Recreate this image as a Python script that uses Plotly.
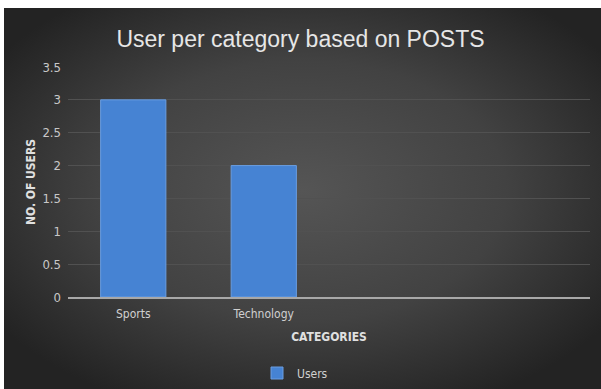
import base64
import plotly.graph_objects as go

categories = ["Sports", "Technology"]
users = [3, 2]
slot_count = 4  # category slots on the axis (two are empty)
y_ticks = [0, 0.5, 1, 1.5, 2, 2.5, 3, 3.5]
y_tick_labels = ["0", "0.5", "1", "1.5", "2", "2.5", "3", "3.5"]

W, H = 601, 389
L, R, T, B = 68, 11, 67, 92
pw, ph = W - L - R, H - T - B

svg = f'''<svg xmlns="http://www.w3.org/2000/svg" width="597" height="381" viewBox="0 0 597 381" preserveAspectRatio="none">
<defs><radialGradient id="g" cx="50%" cy="48%" r="62%" fx="50%" fy="48%">
<stop offset="0%" stop-color="#555555"/>
<stop offset="55%" stop-color="#424242"/>
<stop offset="100%" stop-color="#232323"/>
</radialGradient></defs>
<rect width="597" height="381" fill="url(#g)"/></svg>'''
src = "data:image/svg+xml;base64," + base64.b64encode(svg.encode()).decode()

font_narrow = "DejaVu Sans Condensed, Liberation Sans Narrow, Arial Narrow, Liberation Sans, sans-serif"

fig = go.Figure()
fig.add_trace(go.Bar(
    x=list(range(len(categories))), y=users, name="Users",
    marker=dict(color="#4683d3", line=dict(color="#6a9de0", width=1)),
    width=0.5,
))

fig.add_layout_image(dict(
    source=src, xref="paper", yref="paper",
    x=(4 - L) / pw, y=(T + ph - 8) / ph,
    sizex=597 / pw, sizey=381 / ph,
    xanchor="left", yanchor="top", sizing="stretch", layer="below",
))

fig.update_layout(
    width=W, height=H,
    margin=dict(l=L, r=R, t=T, b=B, autoexpand=False),
    paper_bgcolor="white", plot_bgcolor="rgba(0,0,0,0)",
    title=dict(text="User per category based on POSTS", x=0.5, xref="container",
               xanchor="center", y=1 - 39 / H, yanchor="middle",
               font=dict(family="Liberation Sans, sans-serif", size=23, color="#e6e6e6")),
    showlegend=True,
    legend=dict(orientation="h", x=(295 - L) / pw, xanchor="center",
                y=-(373 - T - ph) / ph, yanchor="middle", itemwidth=30,
                font=dict(family=font_narrow, size=12, color="#d0d0d0"),
                bgcolor="rgba(0,0,0,0)"),
    xaxis=dict(range=[-0.5, slot_count - 0.5], tickvals=list(range(len(categories))),
               ticktext=categories, showgrid=False, zeroline=False, automargin=False,
               showline=True, linecolor="#a8a8a8", linewidth=2,
               tickfont=dict(family=font_narrow, size=12, color="#d0d0d0"),
               ticklabelstandoff=5,
               title=dict(text="<b>CATEGORIES</b>", standoff=12,
                          font=dict(family=font_narrow, size=12, color="#e0e0e0"))),
    yaxis=dict(range=[0, 3.5], tickvals=y_ticks, ticktext=y_tick_labels, automargin=False,
               showgrid=True, gridcolor="#515151", gridwidth=1, zeroline=False,
               tickfont=dict(family=font_narrow, size=13, color="#c8c8c8"),
               ticklabelstandoff=6,
               title=dict(text="<b>NO. OF USERS</b>", standoff=4,
                          font=dict(family=font_narrow, size=12, color="#e0e0e0"))),
)

fig.write_html("out.html")
